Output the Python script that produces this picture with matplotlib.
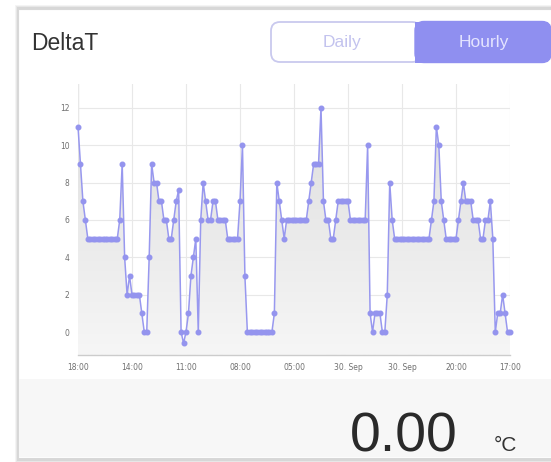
import numpy as np
import matplotlib
matplotlib.use("Agg")
import matplotlib.pyplot as plt
from matplotlib.patches import FancyBboxPatch, Rectangle, Polygon

# ---------------- data ----------------
title = "DeltaT"
tick_labels = ["18:00", "14:00", "11:00", "08:00", "05:00", "30. Sep", "30. Sep", "20:00", "17:00"]
y_ticks = [0, 2, 4, 6, 8, 10, 12]

values_a = [11, 9, 7, 6, 5, 5, 5, 5, 5, 5, 5, 5, 5, 5, 5, 5, 5, 6, 9, 4, 2, 3, 2, 2, 2, 2, 1, 0, 0]
values_b = [4, 9, 8, 8, 7, 7, 6, 6, 5, 5, 6, 7, 7.6, 0, -0.6, 0, 1, 3, 4, 5, 0,
            6, 8, 7, 6, 6, 7, 7, 6, 6, 6, 6, 5, 5, 5, 5, 5, 7, 10, 3]
values_c = [0, 0, 0, 0, 0, 0, 0, 0, 0, 0, 0, 1, 8, 7, 6, 5, 6, 6, 6, 6, 6, 6, 6, 6, 6,
            7, 8, 9, 9, 9, 12, 7, 6, 6, 5, 5, 6, 7, 7, 7, 7, 7, 6, 6, 6, 6, 6, 6, 6, 10]
values_d = [1, 0, 1, 1, 1, 0, 0, 2, 8, 6, 5, 5, 5, 5, 5, 5, 5, 5, 5, 5, 5, 5, 5, 5, 5,
            6, 7, 11, 10, 7, 6, 5, 5, 5, 5, 5, 6, 7, 8, 7, 7, 7, 6, 6, 6, 5, 5, 6, 6, 7, 5,
            0, 1, 1, 2, 1, 0, 0]
values = values_a + values_b + values_c + values_d
current_value = "0.00"
unit = "°C"
btn_left = "Daily"
btn_right = "Hourly"

# ---------------- figure ----------------
W, H = 551, 462
fig = plt.figure(figsize=(W / 100, H / 100), dpi=100, facecolor="white")

# background overlay in pixel coordinates
bg = fig.add_axes([0, 0, 1, 1], zorder=0)
bg.set_xlim(0, W)
bg.set_ylim(H, 0)
bg.axis("off")

# card shadow
for i, a in enumerate([0.10, 0.14, 0.20]):
    off = 3 - i
    bg.add_patch(Rectangle((18 - off, 8 - off), 600, 452 + 2 * off, facecolor="#9a9a9a",
                           alpha=a, edgecolor="none"))
bg.add_patch(Rectangle((18, 9), 600, 449, facecolor="white", edgecolor="#d8d8d8", lw=0.8))
# bottom band
bg.add_patch(Rectangle((19, 379), 600, 78, facecolor="#f7f7f7", edgecolor="none"))

# title
bg.text(31, 44, title, fontsize=16.5, color="#333333", family="Liberation Sans",
        ha="left", va="center")

# toggle buttons
bg.add_patch(FancyBboxPatch((271, 22), 150, 40, boxstyle="round,pad=0,rounding_size=9",
                            facecolor="white", edgecolor="#c9c9ee", lw=1.3))
bg.add_patch(FancyBboxPatch((415, 21.5), 136, 41, boxstyle="round,pad=0,rounding_size=9",
                            facecolor="#8f8ff0", edgecolor="#8f8ff0", lw=1.0))
bg.add_patch(Rectangle((415, 21.5), 12, 41, facecolor="#8f8ff0", edgecolor="none"))
bg.text(342, 43, btn_left, fontsize=12.5, color="#c3c3ee", family="Liberation Sans",
        ha="center", va="center")
bg.text(484, 43, btn_right, fontsize=12.5, color="#e4e4ff", family="Liberation Sans",
        ha="center", va="center")

# current value
bg.text(350, 451, current_value, fontsize=40, color="#2a2a2a", family="Liberation Sans",
        ha="left", va="baseline")
bg.text(494, 451, unit, fontsize=15, color="#333333", family="Liberation Sans",
        ha="left", va="baseline")

# ---------------- chart ----------------
left, right = 78 / W, 510 / W
bottom, top = (H - 355) / H, (H - 84) / H
ax = fig.add_axes([left, bottom, right - left, top - bottom], zorder=1)
ax.set_facecolor("none")

x = np.arange(len(values))
y = np.array(values, dtype=float)
ax.set_xlim(0, len(values) - 1)
ax.set_ylim(-1.23, 13.28)
y0 = ax.get_ylim()[0]

# gradient area fill clipped to the area polygon
verts = np.vstack([np.column_stack([x, y]), [[x[-1], y0], [x[0], y0]]])
poly = Polygon(verts, closed=True, facecolor="none", edgecolor="none")
ax.add_patch(poly)
grad = np.linspace(0, 1, 256).reshape(-1, 1)
cmap = matplotlib.colors.LinearSegmentedColormap.from_list("g", ["#dcdcdc", "#f6f6f6"])
im = ax.imshow(grad, cmap=cmap, aspect="auto", origin="upper",
               extent=[x[0], x[-1], y0, ax.get_ylim()[1]], zorder=1)
im.set_clip_path(poly)

ax.plot(x, y, color="#9898ef", lw=1.1, marker="o", markersize=3.3,
        markerfacecolor="#9494ee", markeredgecolor="#9494ee", zorder=3, clip_on=False)

n_ticks = len(tick_labels)
tick_pos = np.linspace(0, len(values) - 1, n_ticks)
ax.set_xticks(tick_pos)
ax.set_xticklabels(tick_labels)
ax.set_yticks(y_ticks)
ax.tick_params(axis="both", length=0, labelsize=5.5, colors="#707070", pad=6)
ax.grid(True, color="#e8e8e8", lw=0.8, zorder=0)
ax.set_axisbelow(True)
for s in ["top", "right", "left"]:
    ax.spines[s].set_visible(False)
ax.spines["bottom"].set_color("#cccccc")
ax.spines["bottom"].set_linewidth(1.0)
ax.axvline(0, color="#d0d0d0", lw=0.9, zorder=0.5)

fig.savefig("out.png", dpi=100, facecolor=fig.get_facecolor())
